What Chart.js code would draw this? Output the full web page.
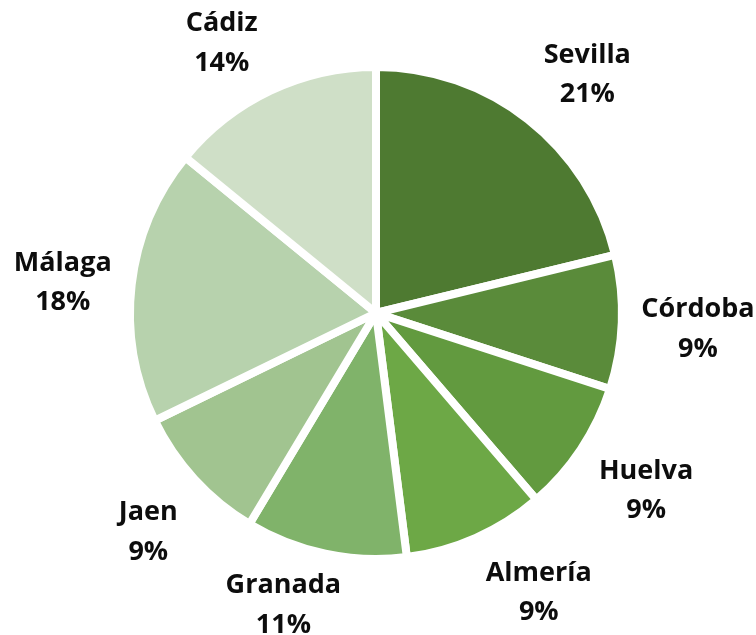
<!DOCTYPE html>
<html>
<head>
<meta charset="utf-8">
<script src="https://cdn.jsdelivr.net/npm/chart.js@4.4.1/dist/chart.umd.min.js"></script>
<style>
  html, body { margin: 0; padding: 0; background: #ffffff; }
  canvas { display: block; }
</style>
</head>
<body>
<canvas id="c" width="756" height="635"></canvas>
<script>
// ---- data ----
const provinces = ['Sevilla', 'Córdoba', 'Huelva', 'Almería', 'Granada', 'Jaen', 'Málaga', 'Cádiz'];
const shares = [21.2, 8.8, 8.7, 9.3, 10.6, 9.2, 18.1, 14.1];

// ---- styling ----
const sliceColors = ['#4E7A31', '#5A8B3A', '#629A3F', '#6DA846', '#80B36A', '#A1C490', '#B7D2AD', '#CFDFC7'];
// label placement: angular shift (deg) from slice middle, distance as multiple of radius
const labelAngleShift = [3.2, 0.4, -0.6, -6.4, 5.8, -1.2, -0.8, -4.2];
const labelRadius = [1.30, 1.31, 1.31, 1.31, 1.24, 1.28, 1.28, 1.27];

const outsideLabels = {
  id: 'outsideLabels',
  afterDatasetsDraw(chart) {
    const ctx = chart.ctx;
    const meta = chart.getDatasetMeta(0);
    const data = chart.data.datasets[0].data;
    const total = data.reduce((a, b) => a + b, 0);
    ctx.save();
    ctx.font = 'bold 27px "Open Sans"';
    ctx.fillStyle = '#0d0d0d';
    ctx.textAlign = 'center';
    ctx.textBaseline = 'alphabetic';
    meta.data.forEach((arc, i) => {
      const p = arc.getProps(['x', 'y', 'startAngle', 'endAngle', 'outerRadius'], true);
      const mid = (p.startAngle + p.endAngle) / 2 + labelAngleShift[i] * Math.PI / 180;
      const r = p.outerRadius * labelRadius[i];
      const cx = p.x + Math.cos(mid) * r;
      const cy = p.y + Math.sin(mid) * r;
      const pct = Math.round(data[i] / total * 100) + '%';
      const b1 = cy - 10.25;
      ctx.fillText(chart.data.labels[i], cx, b1);
      ctx.fillText(pct, cx, b1 + 39.5);
    });
    ctx.restore();
  }
};

new Chart(document.getElementById('c'), {
  type: 'pie',
  data: {
    labels: provinces,
    datasets: [{
      data: shares,
      backgroundColor: sliceColors,
      borderColor: '#ffffff',
      borderWidth: 8
    }]
  },
  options: {
    responsive: false,
    animation: false,
    devicePixelRatio: 1,
    layout: { padding: { left: 126, right: 130, top: 63, bottom: 72 } },
    plugins: {
      legend: { display: false },
      tooltip: { enabled: false }
    }
  },
  plugins: [outsideLabels]
});
</script>
</body>
</html>
